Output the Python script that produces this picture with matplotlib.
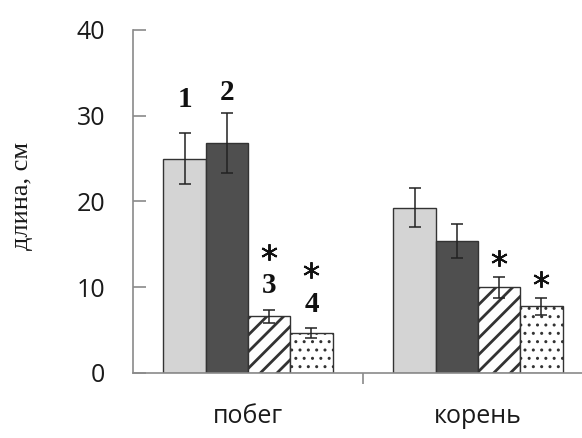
import numpy as np
import matplotlib
matplotlib.use('Agg')
import matplotlib.pyplot as plt

# === Data ===
categories = ["побег", "корень"]
variant_labels = ["1", "2", "3", "4"]
means = {
    "1": [25.0, 19.3],
    "2": [26.8, 15.4],
    "3": [6.6, 10.0],
    "4": [4.7, 7.8],
}
errors = {
    "1": [3.0, 2.3],
    "2": [3.5, 2.0],
    "3": [0.8, 1.2],
    "4": [0.6, 1.0],
}
significant = {
    "1": [False, False],
    "2": [False, False],
    "3": [True, True],
    "4": [True, True],
}
numbered_group = 0   # numbers 1-4 are shown above bars of this group

# === Style ===
fills = ["#d4d4d4", "#4f4f4f", "white", "white"]
hatches = [None, None, "//", ".."]
hatch_lw = [1.0, 1.0, 2.0, 1.0]
num_gap = [3.0, 1.5, 1.9, 1.85]      # gap above error bar to number baseline
star_gap_numbered = 6.7              # star above numbered bars
star_gap_plain = 2.2

plt.rcParams['hatch.color'] = '#222222'

fig = plt.figure(figsize=(5.82, 4.38), dpi=100)
ax = fig.add_axes([133 / 582, 65 / 438, 460 / 582, 343 / 438])

x = np.arange(len(categories))
width = 0.184
offsets = (np.arange(4) - 1.5) * width

for i, lab in enumerate(variant_labels):
    xs = x + offsets[i]
    with plt.rc_context({'hatch.linewidth': hatch_lw[i]}):
        ax.bar(xs, means[lab], width, color=fills[i], hatch=hatches[i],
               edgecolor='#333333', linewidth=1.0, zorder=2)
    ax.errorbar(xs, means[lab], yerr=errors[lab], fmt='none', ecolor='#222222',
                elinewidth=1.1, capsize=4.5, capthick=1.1, zorder=3)
    for j in range(len(categories)):
        top = means[lab][j] + errors[lab][j]
        if significant[lab][j]:
            gap = star_gap_numbered if j == numbered_group else star_gap_plain
            ax.plot([xs[j]], [top + gap], linestyle='none', marker=(6, 2, 0),
                    ms=12, mew=1.4, color='#111111', zorder=4)
        if j == numbered_group:
            ax.text(xs[j], top + num_gap[i], lab, ha='center', va='baseline',
                    fontsize=21, fontweight='bold', family='Liberation Serif',
                    color='#111111')

ax.set_xlim(-0.5, 1.5)
ax.set_ylim(0, 40)
ax.set_yticks([0, 10, 20, 30, 40])
ax.set_xticks(x)
ax.set_xticklabels(categories)
ax.set_xticks([0.5], minor=True)

for s in ['top', 'right']:
    ax.spines[s].set_visible(False)
for s in ['left', 'bottom']:
    ax.spines[s].set_color('#8a8a8a')
    ax.spines[s].set_linewidth(1.2)

ax.tick_params(axis='y', direction='in', length=9, color='#8a8a8a', width=1.2,
               labelsize=18, pad=20)
ax.tick_params(axis='x', which='major', length=0, labelsize=18, pad=22)
ax.tick_params(axis='x', which='minor', direction='out', length=8,
               color='#8a8a8a', width=1.2)
for t in ax.get_xticklabels() + ax.get_yticklabels():
    t.set_family('Open Sans')
    t.set_color('#1a1a1a')

fig.text(22 / 582, 1 - 196 / 438, "длина, см", rotation=90, ha='center',
         va='center', family='Liberation Serif', fontsize=19, color='#1a1a1a')

fig.savefig("out.png", dpi=100)
